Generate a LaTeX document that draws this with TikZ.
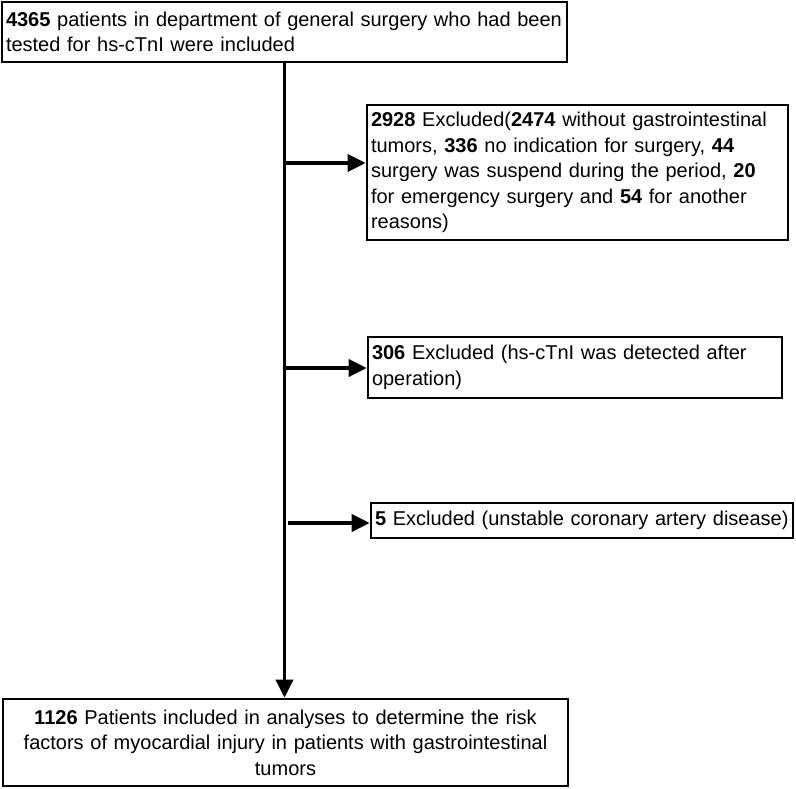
\documentclass[tikz,border=0pt]{standalone}
\usepackage{fontspec}
\setmainfont{Liberation Sans}
\usetikzlibrary{arrows.meta}
\newcommand{\oneline}[1]{\mbox{#1}}
\begin{document}
\begin{tikzpicture}[x=1pt,y=-1pt,
  box/.style={draw, line width=2.6pt, inner xsep=4pt, inner ysep=0pt, align=left,
    font=\fontsize{20}{25.5}\selectfont},
  conn/.style={line width=3.6pt, -{Triangle[length=18pt,width=17pt]}}]
\useasboundingbox (0,0) rectangle (796,788);
\node[box, minimum width=565pt, minimum height=60pt, text width=557pt] (top) at (284.5,32)
  {\oneline{\textbf{4365} patients in department of general surgery who had been}\\\oneline{tested for hs-cTnI were included}};
\node[box, minimum width=421pt, minimum height=135pt, text width=413pt] (ex1) at (577.5,172.5)
  {\oneline{\textbf{2928} Excluded(\textbf{2474} without gastrointestinal}\\\oneline{tumors, \textbf{336} no indication for surgery, \textbf{44}}\\\oneline{surgery was suspend during the period, \textbf{20}}\\\oneline{for emergency surgery and \textbf{54} for another}\\\oneline{reasons)}};
\node[box, minimum width=414pt, minimum height=61pt, text width=406pt] (ex2) at (575,367.5)
  {\oneline{\textbf{306} Excluded (hs-cTnI was detected after}\\\oneline{operation)}};
\node[box, minimum width=422pt, minimum height=35pt, text width=414pt] (ex3) at (582,520.5)
  {\oneline{\textbf{5} Excluded (unstable coronary artery disease)}};
\node[box, minimum width=565pt, minimum height=87pt, text width=557pt, align=center] (bot) at (285.5,742.5)
  {\oneline{\textbf{1126} Patients included in analyses to determine the risk}\\\oneline{factors of myocardial injury in patients with gastrointestinal}\\\oneline{tumors}};
\coordinate (s1) at (285,163);
\coordinate (s2) at (285,368);
\coordinate (s3) at (288,523);
\draw[conn] (top.south) -- (top.south |- bot.north);
\draw[conn] (s1) -- (s1 -| ex1.west);
\draw[conn] (s2) -- (s2 -| ex2.west);
\draw[conn] (s3) -- (s3 -| ex3.west);
\end{tikzpicture}
\end{document}
